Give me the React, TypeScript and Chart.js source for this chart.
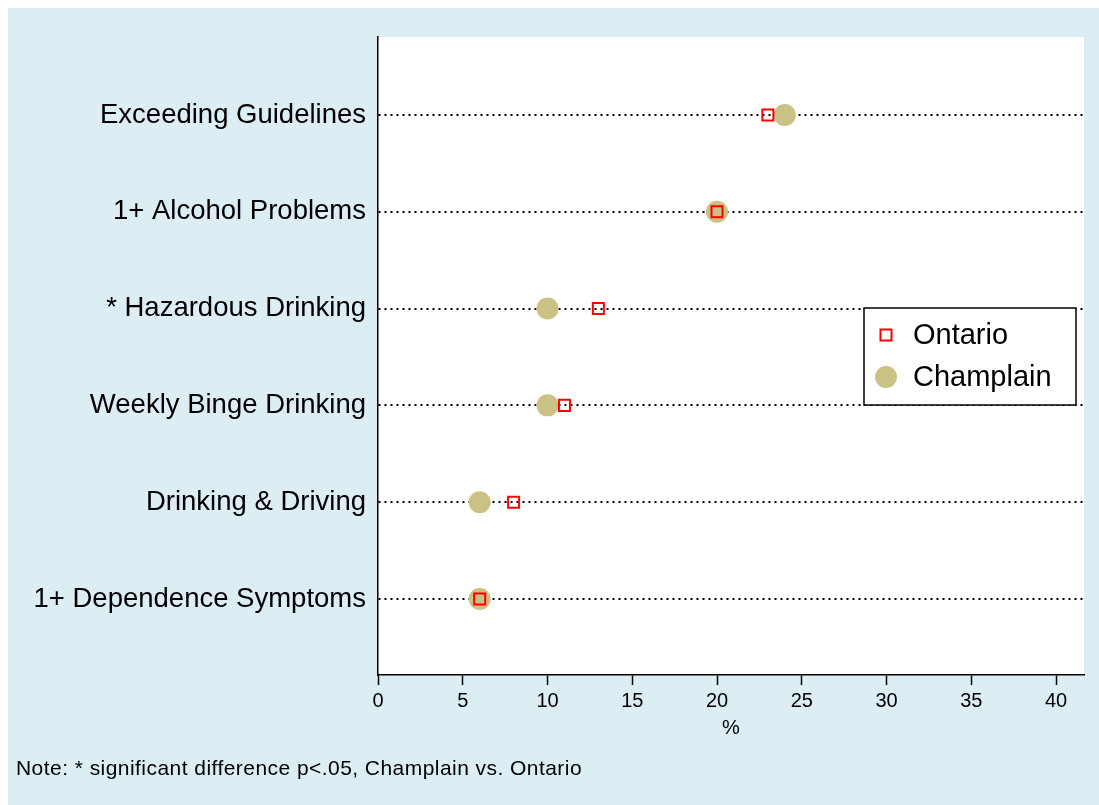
import React, { useEffect, useRef } from 'react';
import { Chart, registerables } from 'chart.js';

Chart.register(...registerables);

// ---- data ----
const categories = [
  'Exceeding Guidelines',
  '1+ Alcohol Problems',
  '* Hazardous Drinking',
  'Weekly Binge Drinking',
  'Drinking & Driving',
  '1+ Dependence Symptoms',
];
const ontarioValues = [23, 20, 13, 11, 8, 6];
const champlainValues = [24, 20, 10, 10, 6, 6];
const xTickValues = [0, 5, 10, 15, 20, 25, 30, 35, 40];
const seriesNames = ['Ontario', 'Champlain'];
const xAxisTitle = '%';
const noteText = 'Note: * significant difference p<.05, Champlain vs. Ontario';

const FONT = '"Liberation Sans", Arial, Helvetica, sans-serif';
const BG = '#ddedf4';
const KHAKI = 'rgb(202,194,132)';
const RED = '#ff0000';

const n = categories.length;

const backgroundPlugin = {
  id: 'bgPlugin',
  beforeDraw(chart: any) {
    const { ctx, chartArea, width, height } = chart;
    ctx.save();
    ctx.fillStyle = BG;
    ctx.fillRect(0, 0, width, height);
    ctx.fillStyle = '#ffffff';
    ctx.fillRect(chartArea.left, chartArea.top, chartArea.right - chartArea.left, chartArea.bottom - chartArea.top);
    ctx.restore();
  },
};

const legendPlugin = {
  id: 'boxLegend',
  afterDatasetsDraw(chart: any) {
    const { ctx } = chart;
    const bx = 856, by = 300, bw = 212, bh = 97;
    ctx.save();
    ctx.fillStyle = '#ffffff';
    ctx.fillRect(bx, by, bw, bh);
    ctx.strokeStyle = '#000';
    ctx.lineWidth = 1.5;
    ctx.strokeRect(bx, by, bw, bh);
    const rows = [by + 27, by + 69];
    chart.data.datasets.forEach((ds: any, i: number) => {
      const cx = bx + 22;
      const cy = rows[i];
      const r = ds.pointRadius;
      if (ds.pointStyle === 'rect') {
        const s = r * Math.SQRT1_2;
        ctx.strokeStyle = ds.pointBorderColor;
        ctx.lineWidth = ds.pointBorderWidth;
        ctx.strokeRect(cx - s, cy - s, 2 * s, 2 * s);
      } else {
        ctx.fillStyle = ds.pointBackgroundColor;
        ctx.beginPath();
        ctx.arc(cx, cy, r, 0, Math.PI * 2);
        ctx.fill();
      }
      ctx.fillStyle = '#000';
      ctx.font = `29px ${FONT}`;
      ctx.textAlign = 'left';
      ctx.textBaseline = 'middle';
      ctx.fillText(ds.label, bx + 49, cy + 1);
    });
    ctx.restore();
  },
};

const notePlugin = {
  id: 'notePlugin',
  afterDraw(chart: any) {
    const { ctx } = chart;
    ctx.save();
    ctx.fillStyle = '#000';
    ctx.font = `21px ${FONT}`;
    (ctx as any).letterSpacing = '0.45px';
    ctx.textAlign = 'left';
    ctx.textBaseline = 'middle';
    ctx.fillText(noteText, 8, 761);
    ctx.restore();
  },
};

export default function App() {
  const canvasRef = useRef<HTMLCanvasElement | null>(null);

  useEffect(() => {
    if (!canvasRef.current) return;
    const chart = new Chart(canvasRef.current, {
      type: 'scatter',
      data: {
        datasets: [
          {
            label: seriesNames[0],
            data: ontarioValues.map((v, i) => ({ x: v, y: n - i })),
            pointStyle: 'rect',
            pointRadius: 7.8,
            pointHoverRadius: 7.8,
            pointBorderColor: RED,
            pointBorderWidth: 2,
            pointBackgroundColor: 'rgba(0,0,0,0)',
            showLine: false,
          },
          {
            label: seriesNames[1],
            data: champlainValues.map((v, i) => ({ x: v, y: n - i })),
            pointStyle: 'circle',
            pointRadius: 11,
            pointHoverRadius: 11,
            pointBorderWidth: 0,
            pointBorderColor: KHAKI,
            pointBackgroundColor: KHAKI,
            showLine: false,
          },
        ] as any,
      },
      options: {
        animation: false,
        responsive: false,
        events: [],
        layout: { padding: { left: 0, top: 29, right: 15, bottom: 65 } },
        plugins: {
          legend: { display: false },
          tooltip: { enabled: false },
          title: { display: false },
        },
        scales: {
          x: {
            type: 'linear',
            min: 0,
            max: 41.65,
            afterBuildTicks: (scale: any) => {
              scale.ticks = xTickValues.map((v) => ({ value: v }));
            },
            afterFit: (scale: any) => {
              scale.height = 65;
            },
            ticks: {
              font: { family: FONT, size: 20 },
              color: '#000',
              padding: 4,
              maxRotation: 0,
              autoSkip: false,
            },
            grid: {
              drawOnChartArea: false,
              drawTicks: true,
              tickLength: 10,
              tickColor: '#000',
              tickWidth: 1.5,
            },
            border: { color: '#000', width: 1.5 },
            title: {
              display: true,
              text: xAxisTitle,
              font: { family: FONT, size: 20 },
              color: '#000',
              padding: { top: 0, bottom: 0 },
            },
          },
          y: {
            type: 'linear',
            min: 0.215,
            max: 6.805,
            afterBuildTicks: (scale: any) => {
              scale.ticks = categories.map((_, i) => ({ value: n - i }));
            },
            afterFit: (scale: any) => {
              scale.width = 370;
            },
            ticks: {
              font: { family: FONT, size: 27.5 },
              color: '#000',
              padding: 12,
              autoSkip: false,
              callback: (v: any) => categories[n - Number(v)] ?? '',
            },
            grid: {
              drawTicks: false,
              drawOnChartArea: true,
              color: '#000',
              lineWidth: 2,
            },
            border: { color: '#000', width: 1.5, dash: [2, 4] },
          },
        },
      },
      plugins: [backgroundPlugin, legendPlugin, notePlugin],
    });
    return () => chart.destroy();
  }, []);

  return (
    <div style={{ position: 'fixed', left: 8, top: 8, width: 1091, height: 797 }}>
      <canvas ref={canvasRef} width={1091} height={797} style={{ display: 'block' }} />
    </div>
  );
}
